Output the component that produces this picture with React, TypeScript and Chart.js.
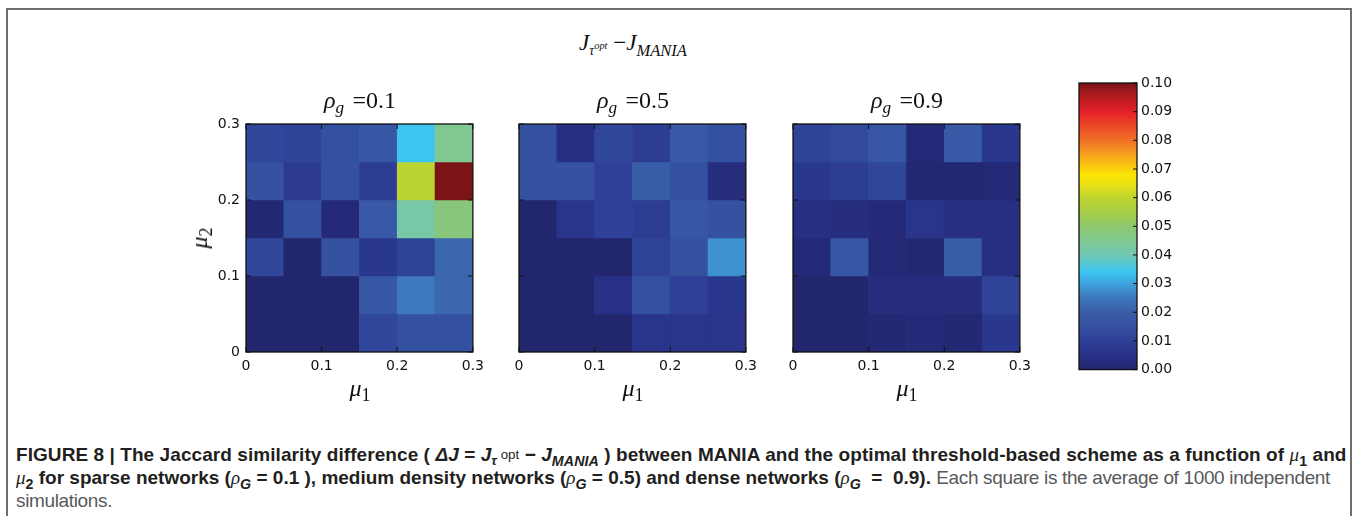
import React, { useEffect, useRef } from "react";
import { Chart, registerables } from "chart.js";

Chart.register(...registerables);

// ---------------- data ----------------
const MU_BIN_EDGES = [0, 0.05, 0.1, 0.15, 0.2, 0.25, 0.3];
const MU_TICK_STEP = 0.1;
const DELTA_J_MIN = 0;
const DELTA_J_MAX = 0.1;
const COLORBAR_TICK_STEP = 0.01;
const PANEL_RHO = ["0.1", "0.5", "0.9"];

// rows: top (mu2 0.25-0.30) -> bottom (mu2 0-0.05); columns: mu1 0 -> 0.3
const DJ_RHO_01 = [
  [0.012, 0.011, 0.015, 0.018, 0.034, 0.045],
  [0.016, 0.008, 0.015, 0.009, 0.059, 0.1],
  [0.001, 0.015, 0.002, 0.019, 0.042, 0.048],
  [0.012, 0.0, 0.016, 0.007, 0.011, 0.022],
  [0.0, 0.0, 0.0, 0.018, 0.025, 0.022],
  [0.0, 0.0, 0.0, 0.012, 0.015, 0.015],
];
const DJ_RHO_05 = [
  [0.015, 0.004, 0.012, 0.009, 0.019, 0.015],
  [0.016, 0.016, 0.01, 0.02, 0.015, 0.003],
  [0.0, 0.006, 0.01, 0.009, 0.018, 0.016],
  [0.0, 0.0, 0.0, 0.011, 0.016, 0.028],
  [0.0, 0.0, 0.005, 0.015, 0.01, 0.007],
  [0.0, 0.0, 0.0, 0.006, 0.006, 0.006],
];
const DJ_RHO_09 = [
  [0.011, 0.013, 0.017, 0.002, 0.019, 0.007],
  [0.007, 0.009, 0.012, 0.001, 0.001, 0.002],
  [0.004, 0.003, 0.002, 0.006, 0.004, 0.004],
  [0.002, 0.018, 0.002, 0.001, 0.02, 0.004],
  [0.0, 0.0, 0.003, 0.003, 0.003, 0.011],
  [0.0, 0.0, 0.001, 0.002, 0.001, 0.007],
];

// ---------------- colormap (jet-like, as printed) ----------------
const CMAP: [number, number[]][] = [
  [0.0, [34, 38, 108]],
  [0.05, [40, 49, 136]],
  [0.1, [46, 64, 151]],
  [0.15, [52, 80, 160]],
  [0.2, [57, 92, 167]],
  [0.25, [62, 120, 188]],
  [0.3, [62, 162, 222]],
  [0.34, [60, 197, 240]],
  [0.4, [112, 199, 180]],
  [0.45, [128, 201, 146]],
  [0.5, [142, 198, 108]],
  [0.55, [168, 206, 70]],
  [0.6, [192, 213, 48]],
  [0.65, [236, 226, 20]],
  [0.68, [252, 228, 4]],
  [0.75, [247, 162, 30]],
  [0.8, [240, 112, 38]],
  [0.85, [236, 72, 40]],
  [0.9, [228, 32, 40]],
  [0.95, [180, 28, 32]],
  [1.0, [122, 20, 22]],
];

function rgb(c: number[]) {
  return `rgb(${Math.round(c[0])},${Math.round(c[1])},${Math.round(c[2])})`;
}

function colorFor(v: number) {
  const t = Math.max(0, Math.min(1, (v - DELTA_J_MIN) / (DELTA_J_MAX - DELTA_J_MIN)));
  for (let i = 1; i < CMAP.length; i++) {
    const [t1, c1] = CMAP[i];
    const [t0, c0] = CMAP[i - 1];
    if (t <= t1) {
      const f = (t - t0) / (t1 - t0);
      return rgb([0, 1, 2].map((k) => c0[k] + (c1[k] - c0[k]) * f));
    }
  }
  return rgb(CMAP[CMAP.length - 1][1]);
}

// ---------------- plugin: frame + inward ticks ----------------
const framePlugin = {
  id: "frame",
  afterDatasetsDraw(chart: any, _args: any, opts: any) {
    const { ctx, chartArea: a, scales } = chart;
    const len = opts.tickLength ?? 5;
    ctx.save();
    ctx.strokeStyle = "#111";
    ctx.lineWidth = 1;
    ctx.beginPath();
    if (opts.xTicks) {
      for (const t of scales.x.ticks) {
        const px = scales.x.getPixelForValue(t.value);
        ctx.moveTo(px, a.bottom);
        ctx.lineTo(px, a.bottom - len);
        ctx.moveTo(px, a.top);
        ctx.lineTo(px, a.top + len);
      }
    }
    for (const t of scales.y.ticks) {
      const py = scales.y.getPixelForValue(t.value);
      if (opts.yLeft) {
        ctx.moveTo(a.left, py);
        ctx.lineTo(a.left + len, py);
      }
      if (opts.yRight) {
        ctx.moveTo(a.right, py);
        ctx.lineTo(a.right - len, py);
      }
    }
    ctx.stroke();
    ctx.lineWidth = 1.3;
    ctx.strokeRect(a.left, a.top, a.right - a.left, a.bottom - a.top);
    ctx.restore();
  },
};

const TICK_FONT = { family: "DejaVu Sans", size: 14 };
const TICK_COLOR = "#111";

function fmtMu(v: any) {
  const n = Number(v);
  return n === 0 ? "0" : n.toFixed(1);
}

function heatmapConfig(values: number[][], showY: boolean, padLeft: number) {
  const n = values.length;
  const datasets = values.map((row, r) => {
    const lo = MU_BIN_EDGES[n - 1 - r];
    const hi = MU_BIN_EDGES[n - r];
    return {
      data: row.map((_v, c) => ({
        x: (MU_BIN_EDGES[c] + MU_BIN_EDGES[c + 1]) / 2,
        y: [lo, hi],
      })),
      backgroundColor: row.map((v) => colorFor(v)),
      borderWidth: 0,
      barPercentage: 1,
      categoryPercentage: 1,
      grouped: false,
    };
  });
  const muMin = MU_BIN_EDGES[0];
  const muMax = MU_BIN_EDGES[MU_BIN_EDGES.length - 1];
  return {
    type: "bar",
    data: { datasets },
    plugins: [framePlugin],
    options: {
      responsive: false,
      animation: false,
      events: [],
      layout: { padding: { left: padLeft, right: 16, top: 24, bottom: 0 } },
      plugins: {
        legend: { display: false },
        tooltip: { enabled: false },
        frame: { xTicks: true, yLeft: true, yRight: true, tickLength: 5 },
      },
      scales: {
        x: {
          type: "linear",
          min: muMin,
          max: muMax,
          offset: false,
          grid: { display: false, drawTicks: false, offset: false },
          border: { display: false },
          ticks: {
            stepSize: MU_TICK_STEP,
            padding: 6,
            font: TICK_FONT,
            color: TICK_COLOR,
            maxRotation: 0,
            autoSkip: false,
            callback: fmtMu,
          },
          afterFit: (s: any) => {
            s.height = 30;
          },
        },
        y: {
          type: "linear",
          min: muMin,
          max: muMax,
          grid: { display: false, drawTicks: false },
          border: { display: false },
          ticks: {
            display: showY,
            stepSize: MU_TICK_STEP,
            padding: 6,
            font: TICK_FONT,
            color: TICK_COLOR,
            callback: fmtMu,
          },
          afterFit: (s: any) => {
            s.width = showY ? 50 : 0;
          },
        },
      },
    },
  };
}

function colorbarConfig() {
  return {
    type: "bar",
    data: {
      labels: ["ΔJ"],
      datasets: [
        {
          data: [[DELTA_J_MIN, DELTA_J_MAX]],
          backgroundColor: (c: any) => {
            const chart = c.chart;
            if (!chart.chartArea) return "#000";
            const y = chart.scales.y;
            const g = chart.ctx.createLinearGradient(
              0,
              y.getPixelForValue(DELTA_J_MIN),
              0,
              y.getPixelForValue(DELTA_J_MAX)
            );
            for (const [t, col] of CMAP) g.addColorStop(t, rgb(col));
            return g;
          },
          borderWidth: 0,
          barPercentage: 1,
          categoryPercentage: 1,
        },
      ],
    },
    plugins: [framePlugin],
    options: {
      responsive: false,
      animation: false,
      events: [],
      layout: { padding: { left: 19, right: 4, top: 13, bottom: 10 } },
      plugins: {
        legend: { display: false },
        tooltip: { enabled: false },
        frame: { xTicks: false, yLeft: false, yRight: true, tickLength: 4 },
      },
      scales: {
        x: { type: "category", display: false },
        y: {
          type: "linear",
          position: "right",
          min: DELTA_J_MIN,
          max: DELTA_J_MAX,
          grid: { display: false, drawTicks: false },
          border: { display: false },
          ticks: {
            stepSize: COLORBAR_TICK_STEP,
            padding: 4,
            font: TICK_FONT,
            color: TICK_COLOR,
            autoSkip: false,
            callback: (v: any) => Number(v).toFixed(2),
          },
          afterFit: (s: any) => {
            s.width = 50;
          },
        },
      },
    },
  };
}

function ChartCanvas({
  left,
  top,
  width,
  height,
  make,
}: {
  left: number;
  top: number;
  width: number;
  height: number;
  make: () => any;
}) {
  const ref = useRef<HTMLCanvasElement>(null);
  useEffect(() => {
    const chart = new Chart(ref.current as HTMLCanvasElement, make());
    return () => chart.destroy();
  }, []);
  return (
    <canvas
      ref={ref}
      width={width}
      height={height}
      style={{ position: "absolute", left, top, width, height }}
    />
  );
}

// ---------------- text helpers ----------------
const Sub = ({ children, size = "0.72em", drop = "0.32em" }: any) => (
  <span style={{ fontSize: size, position: "relative", top: drop, lineHeight: 0 }}>{children}</span>
);
const Sup = ({ children, size = "0.7em", rise = "-0.45em" }: any) => (
  <span style={{ fontSize: size, position: "relative", top: rise, lineHeight: 0 }}>{children}</span>
);

const SERIF = "'Liberation Serif', 'DejaVu Serif', serif";

function Centered({ x, y, children, style }: any) {
  return (
    <div
      style={{
        position: "absolute",
        left: x,
        top: y,
        transform: "translate(-50%, -50%)",
        whiteSpace: "nowrap",
        fontFamily: SERIF,
        color: "#111",
        lineHeight: 1,
        ...style,
      }}
    >
      {children}
    </div>
  );
}

const PLOT_CENTERS = [360, 633, 907];

export default function App() {
  const BOLD = "#231f20";
  const GRAY = "#58595b";
  const capLine: React.CSSProperties = {
    position: "absolute",
    left: 16,
    whiteSpace: "nowrap",
    fontFamily: "'Liberation Sans', Arial, sans-serif",
    fontSize: 19,
    lineHeight: "22px",
    color: GRAY,
  };
  const greek: React.CSSProperties = { fontStyle: "italic", fontWeight: 400, fontFamily: SERIF };
  return (
    <div
      style={{
        position: "absolute",
        left: 0,
        top: 0,
        width: 1362,
        height: 516,
        background: "#fff",
        overflow: "hidden",
      }}
    >
      <div
        style={{
          position: "absolute",
          left: 6,
          top: 8,
          width: 1346,
          height: 600,
          border: "2px solid #6d6e71",
          boxSizing: "border-box",
        }}
      />

      <ChartCanvas left={180} top={100} width={310} height={282} make={() => heatmapConfig(DJ_RHO_01, true, 16)} />
      <ChartCanvas left={503} top={100} width={260} height={282} make={() => heatmapConfig(DJ_RHO_05, false, 16)} />
      <ChartCanvas left={777} top={100} width={260} height={282} make={() => heatmapConfig(DJ_RHO_09, false, 16)} />
      <ChartCanvas left={1060} top={70} width={131} height={312} make={colorbarConfig} />

      {/* main title */}
      <Centered x={633} y={42} style={{ fontSize: 23 }}>
        <i>J</i>
        <Sub size="0.6em" drop="0.35em">
          <i>τ</i>
          <Sup size="0.75em" rise="-0.6em">
            <i>opt</i>
          </Sup>
        </Sub>
        <span> −</span>
        <i>J</i>
        <Sub size="0.72em" drop="0.35em">
          <i>MANIA</i>
        </Sub>
      </Centered>

      {PANEL_RHO.map((r, i) => (
        <Centered key={"t" + i} x={PLOT_CENTERS[i]} y={100} style={{ fontSize: 24 }}>
          <i>ρ</i>
          <Sub size="0.72em" drop="0.3em">
            <i>g</i>
          </Sub>
          <span style={{ marginLeft: "0.35em" }}>{"=" + r}</span>
        </Centered>
      ))}

      {PLOT_CENTERS.map((cx, i) => (
        <Centered key={"m" + i} x={cx} y={388} style={{ fontSize: 24 }}>
          <i>μ</i>
          <Sub size="0.75em" drop="0.3em">1</Sub>
        </Centered>
      ))}

      <Centered x={199} y={238} style={{ fontSize: 24, transform: "translate(-50%, -50%) rotate(-90deg)" }}>
        <i>μ</i>
        <Sub size="0.75em" drop="0.3em">2</Sub>
      </Centered>

      {/* caption */}
      <div style={{ ...capLine, top: 444, letterSpacing: "0.07px" }}>
        <b style={{ color: BOLD }}>
          FIGURE 8 | The Jaccard similarity difference ({"\u00a0"}<i>ΔJ</i>{"\u00a0=\u00a0"}<i>J</i>
          <Sub size="0.7em">
            <i>τ</i>
            <span style={{ position: "relative", top: "-0.5em", fontWeight: 400 }}>&nbsp;opt</span>
          </Sub>
          {"\u00a0\u2212\u00a0"}
          <i>J</i>
          <Sub size="0.75em">
            <i>MANIA</i>
          </Sub>
          {"\u00a0) "}between MANIA and the optimal threshold-based scheme as a function of{" "}
          <span style={greek}>μ</span>
          <Sub size="0.75em">1</Sub> and
        </b>
      </div>
      <div style={{ ...capLine, top: 467 }}>
        <b style={{ color: BOLD }}>
          <span style={greek}>μ</span>
          <Sub size="0.75em">2</Sub> for sparse networks (<span style={greek}>ρ</span>
          <Sub size="0.75em">
            <i>G</i>
          </Sub>{" "}
          = 0.1 ), medium density networks (<span style={greek}>ρ</span>
          <Sub size="0.75em">
            <i>G</i>
          </Sub>{" "}
          = 0.5) and dense networks (<span style={greek}>ρ</span>
          <Sub size="0.75em">
            <i>G</i>
          </Sub>
          {"\u00a0 =\u00a0 0.9)."}
        </b>{" "}
        <span style={{ letterSpacing: "-0.35px" }}>Each square is the average of 1000 independent</span>
      </div>
      <div style={{ ...capLine, top: 490, letterSpacing: "-0.35px" }}>simulations.</div>
    </div>
  );
}
